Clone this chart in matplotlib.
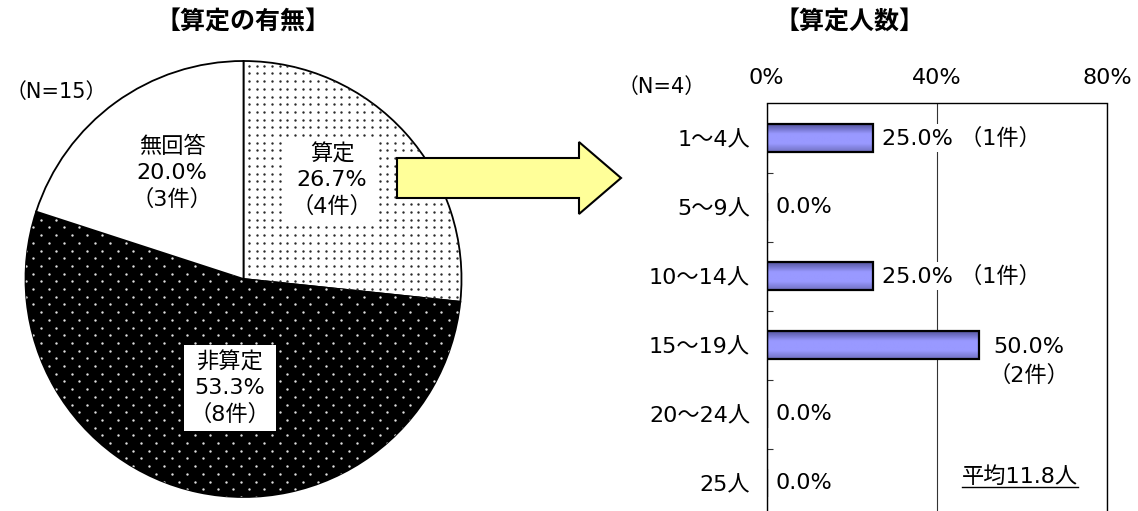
import numpy as np
import matplotlib
matplotlib.use("Agg")
import matplotlib.pyplot as plt
from matplotlib.patches import Polygon
from matplotlib.colors import LinearSegmentedColormap

FONT = ['DejaVu Sans', 'Noto Sans CJK JP']
plt.rcParams['font.family'] = FONT

# ---- left chart: 算定の有無 ----
pie_labels = ['算定', '非算定', '無回答']
pie_counts = [4, 8, 3]
pie_n = 15

# ---- right chart: 算定人数 ----
bar_categories = ['1～4人', '5～9人', '10～14人', '15～19人', '20～24人', '25人']
bar_counts = [1, 0, 1, 2, 0, 0]
bar_n = 4
bar_mean = 11.8
x_ticks = [0, 40, 80]

W, H = 1138, 511
FS = 16
fig = plt.figure(figsize=(W / 100, H / 100), dpi=100)


def fx(px):
    return px / W


def fy(py):
    return 1 - py / H


# ---------------- pie ----------------
cx, cy, r = 243.5, 279, 218
pad = 1.05
pie_ax = fig.add_axes([fx(cx - pad * r), fy(cy + pad * r), 2 * pad * r / W, 2 * pad * r / H])
wedges, _ = pie_ax.pie(pie_counts, startangle=90, counterclock=False, radius=1,
                       colors=['white', 'black', 'white'],
                       wedgeprops=dict(edgecolor='black', linewidth=1.3))
pie_ax.set_xlim(-pad, pad)
pie_ax.set_ylim(-pad, pad)
pie_ax.set_aspect('equal')
pie_ax.axis('off')

# dotted textures
step = 7.7 / r
g = np.arange(-1.0, 1.0 + step, step)
gx, gy = np.meshgrid(g, g)
light = pie_ax.scatter(gx.ravel(), gy.ravel(), s=3.0, c='#2a2a2a', linewidths=0, zorder=1.5)
light.set_clip_path(wedges[0])

rows = []
for i, yv in enumerate(g):
    xs = np.arange(-1.0 + (step if i % 2 else 0), 1.0 + step, 2 * step)
    rows.append(np.column_stack([xs, np.full_like(xs, yv)]))
pts = np.vstack(rows)
dark = pie_ax.scatter(pts[:, 0], pts[:, 1], s=3.0, c='#e0e0e0', linewidths=0, zorder=1.5)
dark.set_clip_path(wedges[1])

total = sum(pie_counts)
label_pos = {'算定': (0.406, 0.454), '非算定': (-0.062, -0.5), '無回答': (-0.328, 0.486)}
boxed = {'算定', '非算定'}
for name, cnt in zip(pie_labels, pie_counts):
    pct = cnt / total * 100
    x, y = label_pos[name]
    bb = dict(boxstyle='square,pad=0.25', fc='white', ec='none') if name in boxed else None
    pie_ax.text(x, y, f"{name}\n{pct:.1f}%\n（{cnt}件）", ha='center', va='center',
                fontsize=FS, linespacing=1.35, bbox=bb, zorder=5)

# ---------------- bars ----------------
left, right, top, bottom = 766.7, 1107, 103.5, 517.5
bar_ax = fig.add_axes([fx(left), fy(bottom), (right - left) / W, (bottom - top) / H])
ypos = np.arange(len(bar_categories))
pcts = np.array(bar_counts) / bar_n * 100

bars = bar_ax.barh(ypos, pcts, height=0.4, color='#9999ff', edgecolor='none', zorder=2)
grad = LinearSegmentedColormap.from_list('bargrad', [(0, '#55559f'), (0.35, '#9999ff'),
                                                      (0.7, '#9999ff'), (1, '#7070c0')])
for b in bars:
    if b.get_width() <= 0:
        continue
    x0, y0 = b.get_x(), b.get_y()
    x1, y1 = x0 + b.get_width(), y0 + b.get_height()
    im = bar_ax.imshow(np.linspace(0, 1, 64).reshape(-1, 1), cmap=grad, aspect='auto',
                       extent=[x0, x1, y1, y0], origin='upper', zorder=2.5,
                       interpolation='bilinear')
    im.set_clip_path(b)
bar_ax.barh(ypos, pcts, height=0.4, fill=False, edgecolor='black', linewidth=1.6, zorder=3)

bar_ax.set_xlim(0, 80)
bar_ax.set_ylim(len(bar_categories) - 0.5, -0.5)
bar_ax.set_xticks(x_ticks)
bar_ax.set_xticklabels([f"{t}%" for t in x_ticks])
bar_ax.xaxis.tick_top()
bar_ax.tick_params(axis='x', length=0, pad=11, labelsize=FS)
bar_ax.set_yticks(ypos)
bar_ax.set_yticklabels(bar_categories)
bar_ax.tick_params(axis='y', which='major', length=0, pad=12, labelsize=FS)
bar_ax.set_yticks(np.arange(0.5, len(bar_categories) - 0.5, 1), minor=True)
bar_ax.tick_params(axis='y', which='minor', direction='in', length=4.5, width=0.8, color='#333333')
bar_ax.grid(axis='x', color='#333333', linewidth=0.8)
bar_ax.set_axisbelow(True)
for s in bar_ax.spines.values():
    s.set_color('black')
    s.set_linewidth(1.0)

for yv, pct, cnt in zip(ypos, pcts, bar_counts):
    if cnt == 0:
        txt, va, dy, ls = f"{pct:.1f}%", 'center', 0, 1.15
    elif pct >= 50:
        txt, va, dy, ls = f"{pct:.1f}%\n（{cnt}件）", 'top', 6, 1.45
    else:
        txt, va, dy, ls = f"{pct:.1f}% （{cnt}件）", 'center', 0, 1.15
    bar_ax.annotate(txt, (pct, yv), xytext=(6.5, dy), textcoords='offset points',
                    ha='left', va=va, multialignment='center', fontsize=FS,
                    linespacing=ls, zorder=4,
                    bbox=dict(boxstyle='square,pad=0.15', fc='white', ec='none'))

# ---------------- overlay: titles, notes, arrow ----------------
ov = fig.add_axes([0, 0, 1, 1], zorder=10)
ov.set_xlim(0, W)
ov.set_ylim(H, 0)
ov.axis('off')

ov.text(243, 23, '【算定の有無】', ha='center', va='center', fontsize=18, fontweight='bold')
ov.text(850, 23, '【算定人数】', ha='center', va='center', fontsize=18, fontweight='bold')
ov.text(6, 92, f"（N={pie_n}）", ha='left', va='center', fontsize=15)
ov.text(618, 87, f"（N={bar_n}）", ha='left', va='center', fontsize=15)

arrow = Polygon([(397, 158), (579, 158), (579, 142), (621, 178), (579, 214), (579, 198), (397, 198)],
                closed=True, fc='#ffff99', ec='black', lw=1.5, joinstyle='miter')
ov.add_patch(arrow)

mean_txt = ov.text(962, 477, f"平均{bar_mean}人", ha='left', va='center', fontsize=FS)
fig.canvas.draw()
bb = mean_txt.get_window_extent().transformed(ov.transData.inverted())
ov.plot([bb.x0, bb.x1], [487, 487], color='black', lw=1.0)

fig.savefig('out.png', dpi=100)
